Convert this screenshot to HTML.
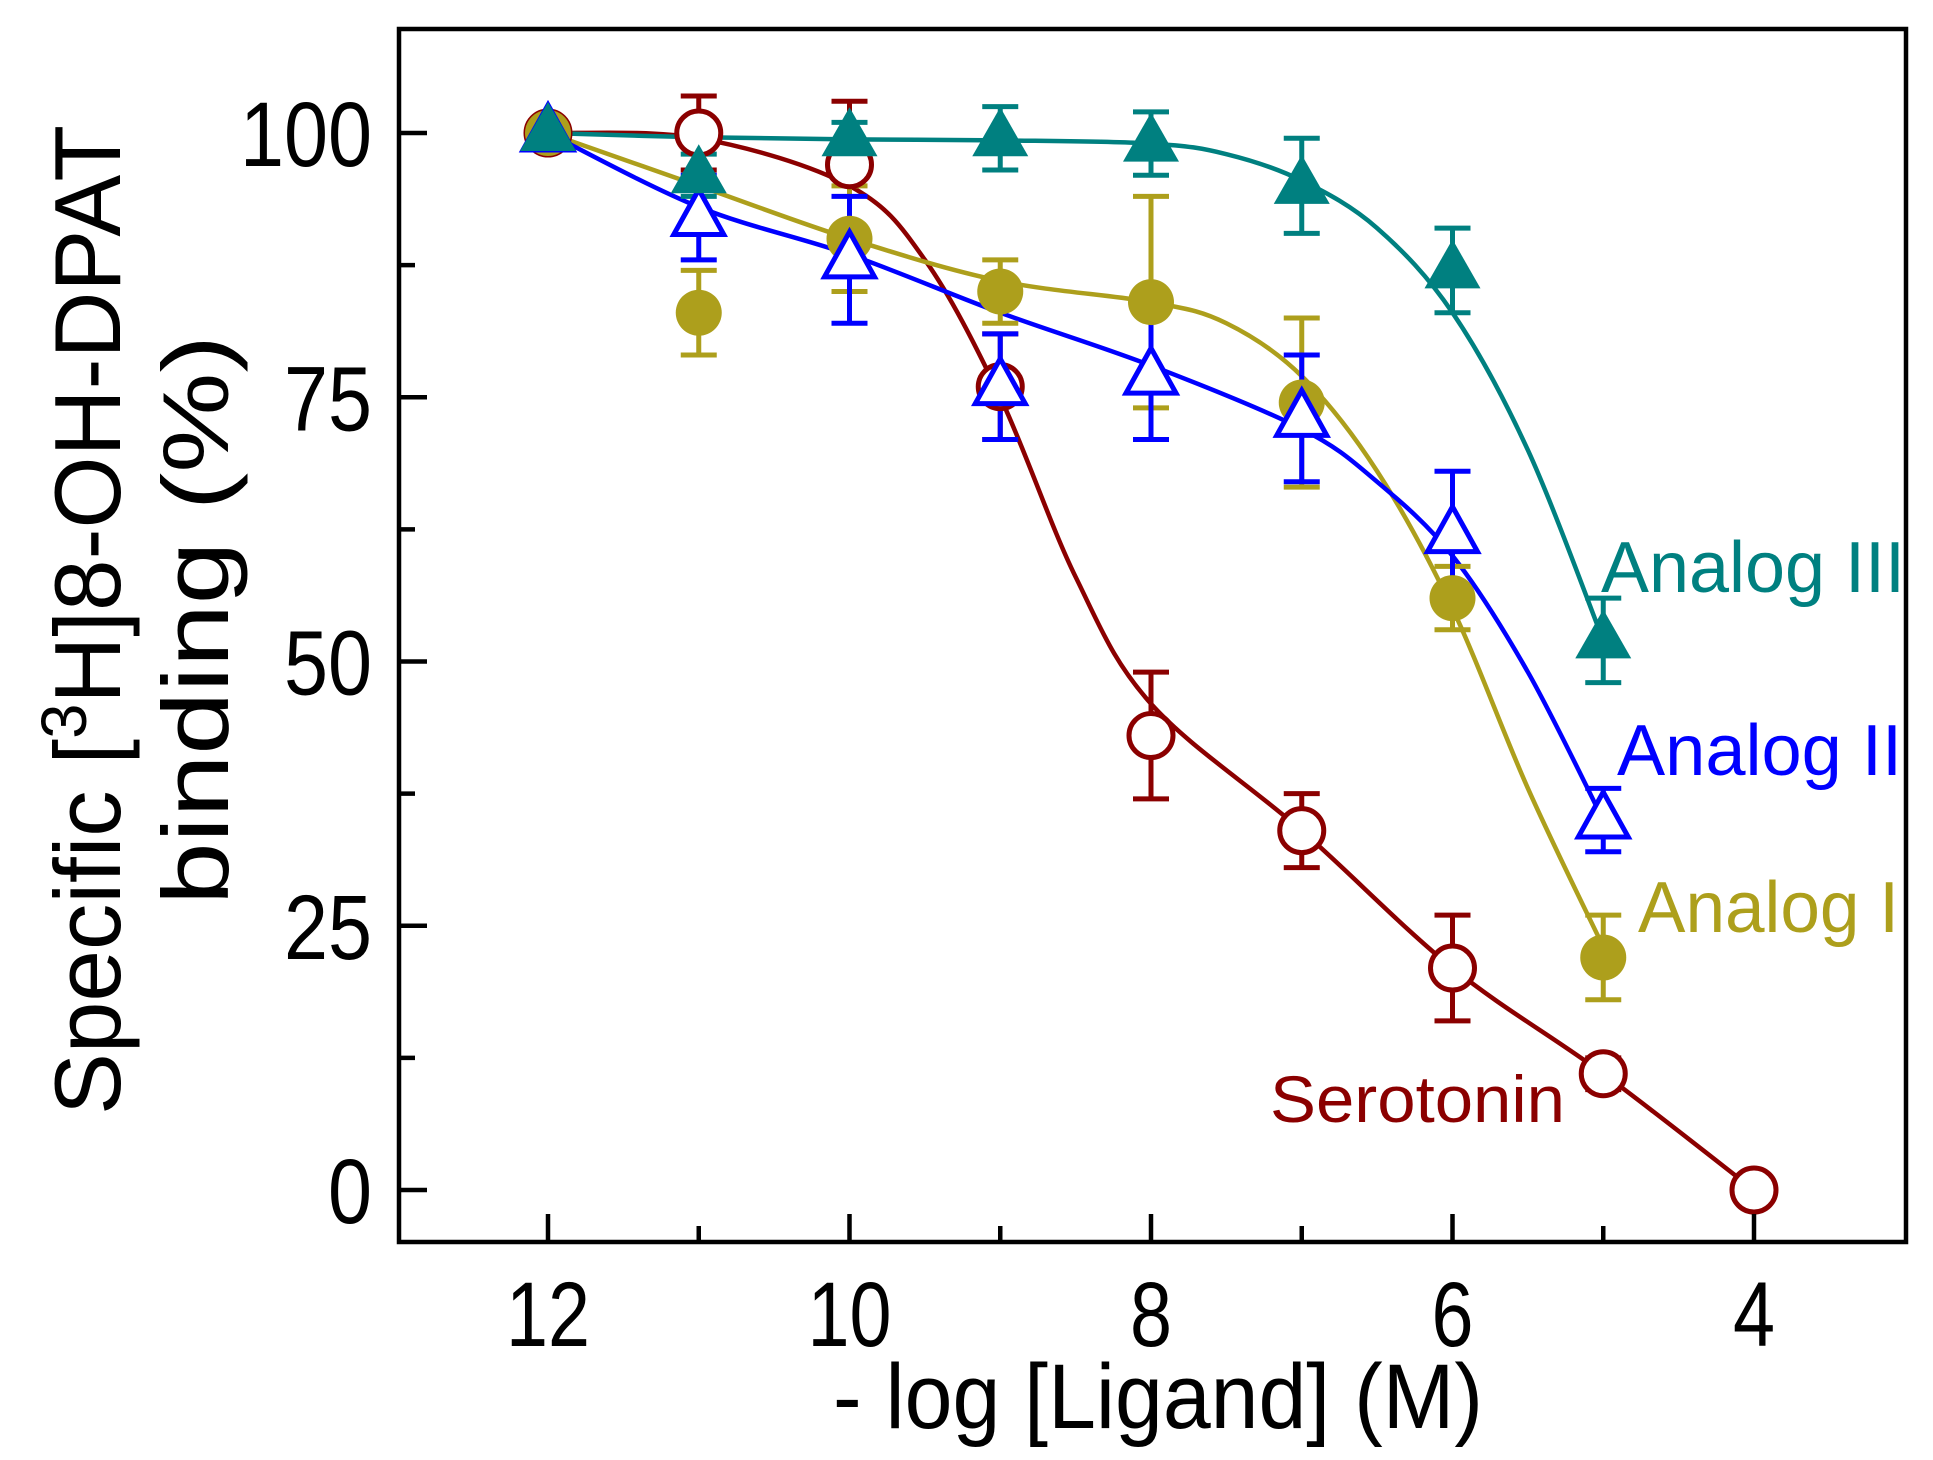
<!DOCTYPE html>
<html><head><meta charset="utf-8"><style>
html,body{margin:0;padding:0;background:#fff;}
svg{display:block;font-family:"Liberation Sans",sans-serif;}
</style></head><body>
<svg id="chart" width="1933" height="1460" viewBox="0 0 1933 1460" xmlns="http://www.w3.org/2000/svg">
<rect x="0" y="0" width="1933" height="1460" fill="#fff"/>
<g id="curves"></g><g id="errs"></g><g id="marks"></g>
<rect x="399" y="29" width="1507" height="1213" fill="none" stroke="#000" stroke-width="4.5"/>
<g id="axes"></g>
<text x="1158" y="1428" font-size="92" text-anchor="middle" textLength="650" lengthAdjust="spacingAndGlyphs">- log [Ligand] (M)</text>
<g transform="translate(0,620) rotate(-90)">
<text x="0" y="120" font-size="94" text-anchor="middle" textLength="990" lengthAdjust="spacingAndGlyphs">Specific [<tspan font-size="64" dy="-34">3</tspan><tspan dy="34">H]8-OH-DPAT</tspan></text>
<text x="0" y="228" font-size="94" text-anchor="middle" textLength="570" lengthAdjust="spacingAndGlyphs">binding (%)</text>
</g>
<text x="1601" y="592" font-size="72" fill="#008080" textLength="304" lengthAdjust="spacingAndGlyphs">Analog III</text>
<text x="1617" y="775" font-size="72" fill="#0000ff" textLength="285" lengthAdjust="spacingAndGlyphs">Analog II</text>
<text x="1638" y="932" font-size="72" fill="#ad9f1c" textLength="261" lengthAdjust="spacingAndGlyphs">Analog I</text>
<text x="1270" y="1122" font-size="66" fill="#8b0000" textLength="295" lengthAdjust="spacingAndGlyphs">Serotonin</text>
</svg>
<script>
const xs = [12, 11, 10, 9, 8, 7, 6, 5];
const seroX = [12, 11, 10, 9, 8, 7, 6, 5, 4];
const seroY = [100, 100, 97, 76, 43, 34, 21, 11, 0];
const seroE = [0, 3.5, 6, 5, 6, 3.5, 5, 1.5, 0];
const a1Y = [100, 83, 90, 85, 84, 74.5, 56, 22];
const a1E = [0, 4, 5, 3, 10, 8, 3, 4];
const a2Y = [100, 92, 88, 76, 77, 73, 62, 35];
const a2E = [0, 4, 6, 5, 6, 6, 6, 3];
const a3Y = [100, 96, 99.5, 99.5, 99, 95, 87, 52];
const a3E = [0, 2, 1.5, 3, 3, 4.5, 4, 4];
const seroFitX = [12, 11, 10, 9.5, 9, 8.5, 8, 7, 6, 5, 4];
const seroFitY = [100, 99.5, 95, 88, 75, 58, 46, 34, 21, 11, 0];
const a1FitX = [12, 11, 10, 9, 8, 7.5, 7, 6.5, 6, 5.5, 5];
const a1FitY = [100, 95, 90, 86, 84, 82, 77, 68, 55, 38, 23];
const a2FitX = [12, 11, 10, 9, 8, 7, 6.5, 6, 5.5, 5];
const a2FitY = [100, 93, 88.5, 83, 78, 72, 67, 60, 49, 35];
const a3FitX = [12, 11, 10, 9, 8, 7.5, 7, 6.5, 6, 5.5, 5];
const a3FitY = [100, 99.6, 99.4, 99.3, 99, 98, 95.5, 91, 83, 70, 52];
const xTicks = [12, 10, 8, 6, 4];
const xMinor = [11, 9, 7, 5];
const yTicks = [0, 25, 50, 75, 100];
const yMinor = [12.5, 37.5, 62.5, 87.5];

const NS = "http://www.w3.org/2000/svg";
function X(v){ return 548 + (12 - v) * 150.75; }
function Y(v){ return 1190 - v * 10.57; }
function mk(tag, attrs, parent){
  const e = document.createElementNS(NS, tag);
  for (const k in attrs) e.setAttribute(k, attrs[k]);
  parent.appendChild(e); return e;
}
const axes = document.getElementById('axes');
xTicks.forEach(v => {
  const t = mk('line', {x1:X(v), x2:X(v), y1:1242, y2:1214, stroke:'#000', 'stroke-width':4.5}, axes);
  
  
  const l = mk('text', {x:X(v), y:1346, 'font-size':92, 'text-anchor':'middle', textLength:String(v).length*42, lengthAdjust:'spacingAndGlyphs'}, axes);
  l.textContent = v;
  
  
});
xMinor.forEach(v => {
  const t = mk('line', {x1:X(v), x2:X(v), y1:1242, y2:1226, stroke:'#000', 'stroke-width':4.5}, axes);
  
  
});
yTicks.forEach(v => {
  const t = mk('line', {x1:399, x2:427, y1:Y(v), y2:Y(v), stroke:'#000', 'stroke-width':4.5}, axes);
  
  
  const l = mk('text', {x:372, y:Y(v)+33, 'font-size':92, 'text-anchor':'end', textLength:String(v).length*44, lengthAdjust:'spacingAndGlyphs'}, axes);
  l.textContent = v;
  
  
});
yMinor.forEach(v => {
  const t = mk('line', {x1:399, x2:415, y1:Y(v), y2:Y(v), stroke:'#000', 'stroke-width':4.5}, axes);
  
  
});

function smooth(px, py){
  const p = px.map((x,i)=>[X(x), Y(py[i])]);
  let d = 'M' + p[0][0] + ',' + p[0][1];
  for (let i=0;i<p.length-1;i++){
    const p0 = p[i-1]||p[i], p1=p[i], p2=p[i+1], p3=p[i+2]||p[i+1];
    const c1x = p1[0]+(p2[0]-p0[0])/6, c1y = p1[1]+(p2[1]-p0[1])/6;
    const c2x = p2[0]-(p3[0]-p1[0])/6, c2y = p2[1]-(p3[1]-p1[1])/6;
    d += ' C'+c1x+','+c1y+' '+c2x+','+c2y+' '+p2[0]+','+p2[1];
  }
  return d;
}
const curves = document.getElementById('curves');
const errs = document.getElementById('errs');
const marks = document.getElementById('marks');
function series(name, color, fx, fy, px, py, pe, shape){
  const c = mk('path', {d:smooth(fx, fy), fill:'none', stroke:color, 'stroke-width':4.5}, curves);
  
  
  px.forEach((x,i) => {
    const cx = X(x), cy = Y(py[i]);
    if (pe[i] > 0){
      const g = mk('path', {d:'M'+cx+','+Y(py[i]-pe[i])+'V'+Y(py[i]+pe[i])+
        'M'+(cx-18)+','+Y(py[i]-pe[i])+'h36M'+(cx-18)+','+Y(py[i]+pe[i])+'h36',
        fill:'none', stroke:color, 'stroke-width':5}, errs);
      
      
    }
    let m;
    if (shape==='circle-open') m = mk('circle', {cx:cx, cy:cy, r:22, fill:'#fff', stroke:color, 'stroke-width':5}, marks);
    else if (shape==='circle-filled') m = mk('circle', {cx:cx, cy:cy, r:23, fill:color}, marks);
    else if (shape==='tri-open') m = mk('path', {d:'M'+cx+','+(cy-28)+'L'+(cx+25)+','+(cy+17)+'L'+(cx-25)+','+(cy+17)+'Z', fill:'#fff', stroke:color, 'stroke-width':5}, marks);
    else m = mk('path', {d:'M'+cx+','+(cy-31)+'L'+(cx+28)+','+(cy+18)+'L'+(cx-28)+','+(cy+18)+'Z', fill:color}, marks);
    
    
  });
}
series('serotonin', '#8b0000', seroFitX, seroFitY, seroX, seroY, seroE, 'circle-open');
series('analog-i', '#ad9f1c', a1FitX, a1FitY, xs, a1Y, a1E, 'circle-filled');
series('analog-ii', '#0000ff', a2FitX, a2FitY, xs, a2Y, a2E, 'tri-open');
series('analog-iii', '#008080', a3FitX, a3FitY, xs, a3Y, a3E, 'tri-filled');
</script>
</body></html>
